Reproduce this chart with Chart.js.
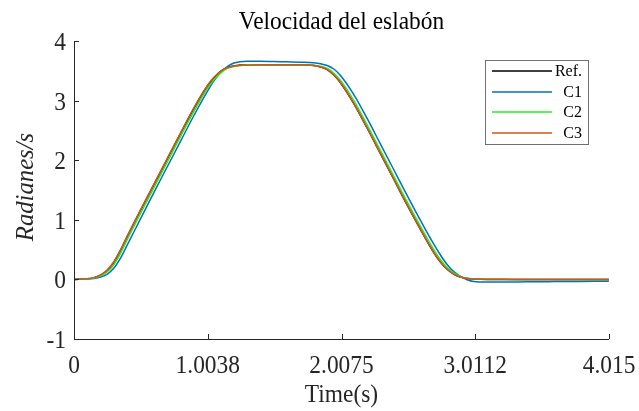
<!DOCTYPE html>
<html>
<head>
<meta charset="utf-8">
<script src="https://cdn.jsdelivr.net/npm/chart.js@4.4.1/dist/chart.umd.min.js"></script>
<style>
  html, body { margin: 0; padding: 0; background: #ffffff; }
  #wrap { width: 639px; height: 411px; }
</style>
</head>
<body>
<div id="wrap"><canvas id="c" width="639" height="411"></canvas></div>
<script>
// Time samples (s)
const time = [0, 0.1, 0.15, 0.2, 0.25, 0.3, 0.35, 0.4,
  0.5, 0.6, 0.7, 0.8, 0.9,
  1.0, 1.05, 1.1, 1.15, 1.2,
  1.3, 1.4, 1.5, 1.6, 1.7, 1.8,
  1.85, 1.9, 1.95, 2.0,
  2.1, 2.2, 2.3, 2.4, 2.5, 2.6, 2.7,
  2.75, 2.8, 2.85, 2.9, 2.95, 3.0,
  3.1, 3.2, 3.3, 3.4, 3.5, 3.6, 3.7, 3.8, 3.9, 4.0,
  4.015];

// Link velocity (rad/s): reference and the three controllers
const refVel = [0, 0.01, 0.03, 0.07, 0.15, 0.29, 0.49, 0.72,
  1.16, 1.59, 2.02, 2.45, 2.87,
  3.24, 3.38, 3.49, 3.55, 3.58,
  3.60, 3.60, 3.60, 3.60, 3.60, 3.59,
  3.565, 3.52, 3.43, 3.30,
  2.95, 2.54, 2.11, 1.68, 1.25, 0.84, 0.45,
  0.29, 0.17, 0.09, 0.04, 0.015, 0.005,
  0, 0, 0, 0, 0, 0, 0, 0, 0, 0,
  0];
const c1Vel = [0, 0.005, 0.015, 0.04, 0.09, 0.19, 0.36, 0.58,
  1.02, 1.46, 1.89, 2.32, 2.75,
  3.15, 3.33, 3.47, 3.57, 3.63,
  3.66, 3.66, 3.655, 3.65, 3.645, 3.635,
  3.62, 3.59, 3.53, 3.42,
  3.10, 2.70, 2.27, 1.84, 1.41, 0.99, 0.59,
  0.41, 0.25, 0.13, 0.05, -0.005, -0.035,
  -0.045, -0.044, -0.042, -0.040, -0.039, -0.037, -0.035, -0.034, -0.032, -0.029,
  -0.028];
const c2Vel = [0, 0.008, 0.025, 0.06, 0.13, 0.25, 0.44, 0.67,
  1.11, 1.54, 1.97, 2.40, 2.82,
  3.20, 3.35, 3.46, 3.54, 3.57,
  3.60, 3.60, 3.60, 3.60, 3.60, 3.595,
  3.575, 3.54, 3.46, 3.34,
  3.00, 2.59, 2.16, 1.73, 1.30, 0.89, 0.50,
  0.33, 0.20, 0.11, 0.05, 0.02, 0.01,
  0.003, 0.001, 0, 0, 0, 0, 0, 0, 0, 0,
  0];
const c3Vel = [0, 0.01, 0.03, 0.075, 0.16, 0.30, 0.50, 0.73,
  1.17, 1.60, 2.03, 2.46, 2.88,
  3.25, 3.39, 3.49, 3.55, 3.58,
  3.595, 3.60, 3.60, 3.60, 3.60, 3.59,
  3.565, 3.52, 3.43, 3.30,
  2.95, 2.54, 2.11, 1.68, 1.25, 0.84, 0.45,
  0.29, 0.17, 0.09, 0.04, 0.016, 0.006,
  0.002, 0.001, 0, 0, 0, 0, 0, 0, 0, 0,
  0];

const xTicks = [0, 1.0038, 2.0075, 3.0112, 4.015];
const xTickLabels = ['0', '1.0038', '2.0075', '3.0112', '4.015'];
const yTicks = [-1, 0, 1, 2, 3, 4];
const yTickLabels = ['-1', '0', '1', '2', '3', '4'];

const seriesNames = ['Ref.', 'C1', 'C2', 'C3'];
const seriesColors = ['#000000', '#0072BD', '#22EE22', '#D95319'];
const seriesValues = [refVel, c1Vel, c2Vel, c3Vel];

const SERIF = '"Liberation Serif", "Times New Roman", serif';

function pts(vals) {
  return vals.map((v, i) => ({ x: time[i], y: v }));
}

const datasets = seriesValues.map((vals, i) => ({
  label: seriesNames[i],
  data: pts(vals),
  borderColor: seriesColors[i],
  borderWidth: 1.5,
  pointRadius: 0,
  fill: false,
  cubicInterpolationMode: 'monotone',
  order: seriesNames.length - i   // later series drawn on top
}));

// text drawn slightly condensed, like the plotting tool's serif
function condensedText(ctx, text, x, y, sx) {
  ctx.save();
  ctx.translate(x, y);
  ctx.scale(sx, 1);
  ctx.fillText(text, 0, 0);
  ctx.restore();
}

// Axes, inward ticks, labels, title and legend box
const decorations = {
  id: 'decorations',
  afterDraw(chart) {
    const ctx = chart.ctx;
    const xs = chart.scales.x, ys = chart.scales.y;
    const a = chart.chartArea;
    ctx.save();
    ctx.strokeStyle = '#262626';
    ctx.lineWidth = 1;
    ctx.beginPath();
    ctx.moveTo(Math.round(a.left) + 0.5, a.top);
    ctx.lineTo(Math.round(a.left) + 0.5, Math.round(a.bottom) + 0.5);
    ctx.lineTo(a.right, Math.round(a.bottom) + 0.5);
    ctx.stroke();

    // inward tick marks
    ctx.beginPath();
    xTicks.forEach(v => {
      const px = Math.round(xs.getPixelForValue(v)) + 0.5;
      ctx.moveTo(px, a.bottom);
      ctx.lineTo(px, a.bottom - 5);
    });
    yTicks.forEach(v => {
      const py = Math.round(ys.getPixelForValue(v)) + 0.5;
      ctx.moveTo(a.left, py);
      ctx.lineTo(a.left + 5, py);
    });
    ctx.stroke();

    ctx.fillStyle = '#262626';
    ctx.font = '26px ' + SERIF;
    ctx.textAlign = 'center';
    ctx.textBaseline = 'alphabetic';
    xTicks.forEach((v, i) => {
      condensedText(ctx, xTickLabels[i], xs.getPixelForValue(v), 372.5, 0.9);
    });
    ctx.textAlign = 'right';
    yTicks.forEach((v, i) => {
      condensedText(ctx, yTickLabels[i], 66, ys.getPixelForValue(v) + 9, 0.9);
    });

    // axis titles
    ctx.textAlign = 'center';
    condensedText(ctx, 'Time(s)', (a.left + a.right) / 2, 402, 0.9);

    ctx.save();
    ctx.translate(33, 187);
    ctx.rotate(-Math.PI / 2);
    ctx.font = 'italic 26px ' + SERIF;
    condensedText(ctx, 'Radianes/s', 0, 0, 0.95);
    ctx.restore();

    // chart title
    ctx.fillStyle = '#000000';
    ctx.font = '26px ' + SERIF;
    condensedText(ctx, 'Velocidad del eslabón', (a.left + a.right) / 2, 29, 0.9);

    // legend
    const bx = 485.5, by = 60.5, bw = 103, bh = 84;
    ctx.fillStyle = '#ffffff';
    ctx.fillRect(bx, by, bw, bh);
    ctx.strokeStyle = '#707070';
    ctx.lineWidth = 1;
    ctx.strokeRect(bx, by, bw, bh);
    const rows = [71, 92, 112, 133];
    ctx.font = '16px ' + SERIF;
    ctx.textAlign = 'right';
    ctx.textBaseline = 'middle';
    seriesNames.forEach((name, i) => {
      ctx.strokeStyle = seriesColors[i];
      ctx.lineWidth = 1.5;
      ctx.beginPath();
      ctx.moveTo(492, rows[i]);
      ctx.lineTo(552, rows[i]);
      ctx.stroke();
      ctx.fillStyle = '#000000';
      ctx.fillText(name, 582, rows[i] + 1);
    });
    ctx.restore();
  }
};

new Chart(document.getElementById('c'), {
  type: 'line',
  data: { datasets },
  options: {
    responsive: false,
    animation: false,
    layout: { padding: { left: 74, right: 30, top: 41, bottom: 72 } },
    plugins: { legend: { display: false }, tooltip: { enabled: false }, title: { display: false } },
    scales: {
      x: { type: 'linear', display: false, min: 0, max: 4.015 },
      y: { type: 'linear', display: false, min: -1, max: 4 }
    }
  },
  plugins: [decorations]
});
</script>
</body>
</html>
